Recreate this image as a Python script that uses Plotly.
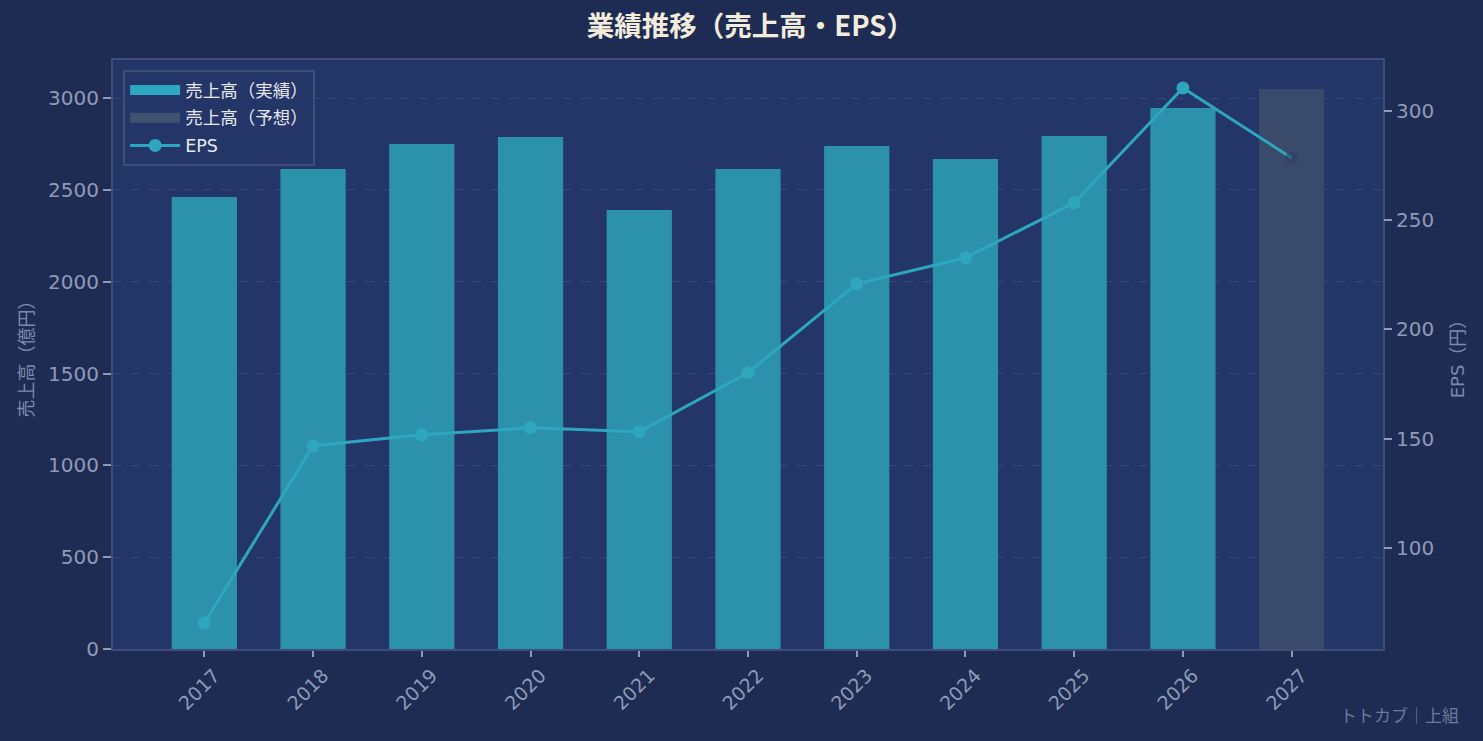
import plotly.graph_objects as go

years = ["2017", "2018", "2019", "2020", "2021", "2022", "2023", "2024", "2025", "2026", "2027"]
sales_actual = [2461, 2613, 2750, 2788, 2390, 2613, 2739, 2668, 2793, 2945, None]
sales_forecast = [None, None, None, None, None, None, None, None, None, None, 3049]
eps = [65.7, 146.8, 151.8, 155.0, 153.2, 180.2, 220.9, 232.8, 258.0, 310.5, 278.5]

CJK = "Noto Sans CJK JP"
FONT = "DejaVu Sans, Noto Sans CJK JP, sans-serif"
TICK = "#8e9bb8"
AXIS_LINE = "#3e4e78"
LINE_C = "#2ea6be"
BAR_C = "#2c92ac"
FC_C = "#3a4a6a"

fig = go.Figure()
fig.add_trace(go.Bar(x=years, y=sales_actual, name="売上高（実績）", showlegend=False,
                     marker=dict(color=BAR_C, line=dict(width=0)), width=0.6))
fig.add_trace(go.Bar(x=years, y=sales_forecast, name="売上高（予想）", showlegend=False,
                     marker=dict(color=FC_C, line=dict(width=0)), width=0.6))
# legend entries for bars (wide swatches)
fig.add_trace(go.Scatter(x=[None], y=[None], mode="lines", name="売上高（実績）", legendgroup="a",
                         line=dict(color="#2ea8c0", width=14)))
fig.add_trace(go.Scatter(x=[None], y=[None], mode="lines", name="売上高（予想）", legendgroup="b",
                         line=dict(color="#405272", width=14)))
marker_colors = [LINE_C] * (len(years) - 1) + ["rgba(46,62,92,0.55)"]
fig.add_trace(go.Scatter(x=years, y=eps, name="EPS", yaxis="y2", mode="lines+markers", legendgroup="c",
                         line=dict(color=LINE_C, width=3),
                         marker=dict(color=marker_colors, size=13, line=dict(width=0))))

fig.add_annotation(text="トトカブ｜上組", xref="paper", yref="paper", x=1.0614, y=-0.112,
                   xanchor="right", yanchor="middle", showarrow=False,
                   font=dict(family=CJK, size=17, color="#6c7a9a"))

fig.update_layout(
    width=1483, height=741,
    paper_bgcolor="#1e2b52",
    plot_bgcolor="#243568",
    font=dict(family=FONT, color=TICK),
    title=dict(text="<b>業績推移（売上高・EPS）</b>", x=0.506, xanchor="center", y=0.965, yanchor="middle",
               font=dict(family=CJK, size=27.5, color="#f2ecdc")),
    margin=dict(l=113, r=100, t=60, b=92),
    barmode="overlay",
    showlegend=True,
    legend=dict(x=0.008, y=0.983, xanchor="left", yanchor="top",
                bgcolor="#243568", bordercolor="#3e4e78", borderwidth=2,
                itemwidth=50,
                font=dict(family=FONT, size=17.5, color="#e8e8ec"), tracegroupgap=2),
    xaxis=dict(type="category", range=[-0.84, 10.84], tickangle=-45,
               tickfont=dict(size=19, color=TICK), showgrid=False, ticklabelshift=10,
               showline=True, linecolor=AXIS_LINE, linewidth=2, mirror=True,
               ticks="outside", ticklen=6, tickcolor=TICK, tickwidth=2),
    yaxis=dict(range=[0, 3207], dtick=500, tickfont=dict(size=20, color=TICK),
               title=dict(text="売上高（億円）", font=dict(family=CJK, size=18, color="#7d8aa8"), standoff=10),
               showgrid=True, gridcolor="rgba(120,140,180,0.22)", griddash="dash", gridwidth=1,
               zeroline=False, showline=True, linecolor=AXIS_LINE, linewidth=2, mirror=True,
               ticks="outside", ticklen=8, tickcolor=TICK, tickwidth=2),
    yaxis2=dict(range=[53.8, 323.3], dtick=50, overlaying="y", side="right",
                tickfont=dict(size=20, color=TICK),
                title=dict(text="EPS（円）", font=dict(size=18, color="#7d8aa8"), standoff=18),
                showgrid=False, zeroline=False, showline=False,
                ticks="outside", ticklen=8, tickcolor=TICK, tickwidth=2),
)

fig.write_html("out.html", config={"displayModeBar": False},
               post_script="document.body.style.margin='0';document.body.style.background='#1e2b52';")
